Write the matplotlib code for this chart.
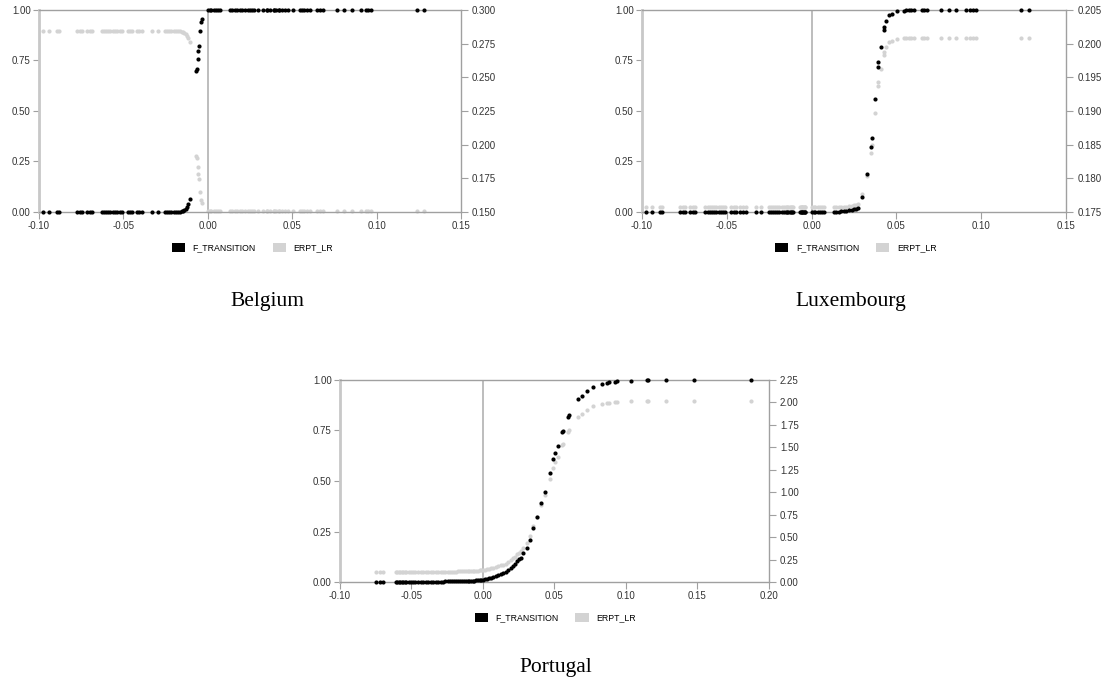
import matplotlib
matplotlib.use('Agg')
import matplotlib.pyplot as plt
import matplotlib.patches as patches
from matplotlib.ticker import FormatStrFormatter

plt.rcParams['font.family'] = ['Liberation Sans', 'DejaVu Sans']

# exchange rate change (same sample for Belgium and Luxembourg)
x_chg = [
    -0.0976, -0.0940, -0.0893, -0.0880, -0.0775, -0.0757, -0.0746, -0.0716, -0.0698, -0.0686,
    -0.0627, -0.0614, -0.0602, -0.0590, -0.0577, -0.0562, -0.0549, -0.0536, -0.0522, -0.0509,
    -0.0473, -0.0460, -0.0447, -0.0420, -0.0405, -0.0390, -0.0331, -0.0296, -0.0254, -0.0241,
    -0.0229, -0.0216, -0.0202, -0.0190, -0.0177, -0.0165, -0.0154, -0.0145, -0.0138, -0.0130,
    -0.0122, -0.0115, -0.0108, -0.0067, -0.0065, -0.0059, -0.0055, -0.0053, -0.0047, -0.0041,
    -0.0037, 0.0002, 0.0012, 0.0022, 0.0035, 0.0048, 0.0060, 0.0071, 0.0130, 0.0145,
    0.0160, 0.0175, 0.0190, 0.0205, 0.0222, 0.0237, 0.0250, 0.0262, 0.0272, 0.0298,
    0.0326, 0.0349, 0.0353, 0.0371, 0.0390, 0.0394, 0.0406, 0.0424, 0.0425, 0.0441,
    0.0459, 0.0473, 0.0503, 0.0544, 0.0556, 0.0572, 0.0586, 0.0604, 0.0650, 0.0662,
    0.0680, 0.0763, 0.0810, 0.0852, 0.0910, 0.0935, 0.0952, 0.0970, 0.1237, 0.1284,
]

# Belgium
f_be = [
    0, 0, 0, 0, 0, 0, 0, 0, 0, 0,
    0, 0, 0, 0, 0, 0, 0, 0, 0, 0,
    0, 0, 0, 0, 0, 0, 0, 0, 0, 0,
    0, 0, 0.001, 0.001, 0.001, 0.002, 0.003, 0.005, 0.008, 0.014,
    0.024, 0.040, 0.062, 0.696, 0.707, 0.757, 0.795, 0.820, 0.897, 0.939,
    0.955, 1, 1, 1, 1, 1, 1, 1, 1, 1,
    1, 1, 1, 1, 1, 1, 1, 1, 1, 1,
    1, 1, 1, 1, 1, 1, 1, 1, 1, 1,
    1, 1, 1, 1, 1, 1, 1, 1, 1, 1,
    1, 1, 1, 1, 1, 1, 1, 1, 1, 1,
]
erpt_be = [
    0.2843, 0.2843, 0.2843, 0.2843, 0.2843, 0.2843, 0.2843, 0.2843, 0.2843, 0.2843,
    0.2843, 0.2843, 0.2843, 0.2843, 0.2843, 0.2843, 0.2843, 0.2843, 0.2843, 0.2843,
    0.2843, 0.2843, 0.2843, 0.2843, 0.2843, 0.2843, 0.2843, 0.2843, 0.2843, 0.2843,
    0.2843, 0.2843, 0.2841, 0.2841, 0.2841, 0.2840, 0.2839, 0.2836, 0.2832, 0.2824,
    0.2810, 0.2789, 0.2760, 0.1913, 0.1899, 0.1832, 0.1781, 0.1748, 0.1645, 0.1589,
    0.1568, 0.1508, 0.1508, 0.1508, 0.1508, 0.1508, 0.1508, 0.1508, 0.1508, 0.1508,
    0.1508, 0.1508, 0.1508, 0.1508, 0.1508, 0.1508, 0.1508, 0.1508, 0.1508, 0.1508,
    0.1508, 0.1508, 0.1508, 0.1508, 0.1508, 0.1508, 0.1508, 0.1508, 0.1508, 0.1508,
    0.1508, 0.1508, 0.1508, 0.1508, 0.1508, 0.1508, 0.1508, 0.1508, 0.1508, 0.1508,
    0.1508, 0.1508, 0.1508, 0.1508, 0.1508, 0.1508, 0.1508, 0.1508, 0.1508, 0.1508,
]

# Luxembourg
f_lu = [
    0, 0, 0, 0, 0, 0, 0, 0, 0, 0,
    0, 0, 0, 0, 0, 0, 0, 0, 0, 0,
    0, 0, 0, 0, 0, 0, 0, 0, 0, 0,
    0, 0, 0, 0, 0, 0, 0, 0, 0, 0,
    0, 0, 0, 0, 0, 0, 0, 0, 0, 0,
    0, 0, 0, 0, 0, 0, 0, 0, 0.001, 0.002,
    0.002, 0.003, 0.004, 0.006, 0.008, 0.011, 0.014, 0.017, 0.021, 0.076,
    0.187, 0.324, 0.367, 0.557, 0.716, 0.740, 0.818, 0.900, 0.914, 0.947,
    0.974, 0.982, 0.993, 0.997, 0.998, 0.999, 1, 1, 1, 1,
    1, 1, 1, 1, 1, 1, 1, 1, 1, 1,
]
erpt_lu = [
    0.1757, 0.1757, 0.1757, 0.1757, 0.1757, 0.1757, 0.1757, 0.1757, 0.1757, 0.1757,
    0.1757, 0.1757, 0.1757, 0.1757, 0.1757, 0.1757, 0.1757, 0.1757, 0.1757, 0.1757,
    0.1757, 0.1757, 0.1757, 0.1757, 0.1757, 0.1757, 0.1757, 0.1757, 0.1757, 0.1757,
    0.1757, 0.1757, 0.1757, 0.1757, 0.1757, 0.1757, 0.1757, 0.1757, 0.1757, 0.1757,
    0.1757, 0.1757, 0.1757, 0.1757, 0.1757, 0.1757, 0.1757, 0.1757, 0.1757, 0.1757,
    0.1757, 0.1757, 0.1757, 0.1757, 0.1757, 0.1757, 0.1757, 0.1757, 0.1757, 0.1757,
    0.1757, 0.1757, 0.1757, 0.1758, 0.1759, 0.1759, 0.1760, 0.1761, 0.1762, 0.1776,
    0.1804, 0.1838, 0.1849, 0.1897, 0.1937, 0.1943, 0.1963, 0.1983, 0.1987, 0.1995,
    0.2002, 0.2004, 0.2007, 0.2008, 0.2008, 0.2008, 0.2008, 0.2008, 0.2008, 0.2008,
    0.2008, 0.2008, 0.2008, 0.2008, 0.2008, 0.2008, 0.2008, 0.2008, 0.2008, 0.2008,
]

# Portugal
x_pt = [
    -0.0748, -0.0722, -0.0697,
    -0.0610, -0.0598, -0.0588, -0.0578, -0.0568, -0.0558, -0.0548, -0.0535, -0.0520, -0.0505,
    -0.0490, -0.0472, -0.0455,
    -0.0435, -0.0418, -0.0400, -0.0382, -0.0365, -0.0348, -0.0330, -0.0312, -0.0295, -0.0278,
    -0.0262, -0.0245,
    -0.0230, -0.0215, -0.0200, -0.0186, -0.0172, -0.0158, -0.0145, -0.0132, -0.0120, -0.0108,
    -0.0096, -0.0084, -0.0072, -0.0060, -0.0048, -0.0036, -0.0024, -0.0012, 0.0000,
    0.0014, 0.0026, 0.0040, 0.0055, 0.0072, 0.0090, 0.0107, 0.0124, 0.0142, 0.0160,
    0.0177, 0.0195, 0.0212, 0.0226, 0.0240, 0.0252, 0.0263,
    0.0282, 0.0306, 0.0329, 0.0352, 0.0376, 0.0406, 0.0434, 0.0469, 0.0492, 0.0503,
    0.0522, 0.0550, 0.0557, 0.0592, 0.0599, 0.0667, 0.0690, 0.0729, 0.0771, 0.0830,
    0.0865, 0.0883, 0.0923, 0.0939, 0.1035, 0.1145, 0.1156, 0.1277, 0.1476, 0.1872,
]
f_pt = [
    0, 0, 0,
    0, 0, 0, 0, 0, 0, 0.001, 0.001, 0.001, 0.001,
    0.001, 0.001, 0.001,
    0.001, 0.001, 0.001, 0.001, 0.002, 0.002, 0.002, 0.002, 0.002, 0.002,
    0.003, 0.003,
    0.003, 0.003, 0.003, 0.003, 0.004, 0.004, 0.004, 0.004, 0.005, 0.005,
    0.005, 0.006, 0.006, 0.007, 0.008, 0.009, 0.010, 0.011, 0.012,
    0.013, 0.015, 0.018, 0.021, 0.025, 0.029, 0.033, 0.038, 0.043, 0.050,
    0.058, 0.068, 0.080, 0.090, 0.103, 0.112, 0.120,
    0.142, 0.167, 0.208, 0.266, 0.323, 0.389, 0.447, 0.541, 0.607, 0.640,
    0.673, 0.744, 0.749, 0.815, 0.827, 0.904, 0.921, 0.947, 0.967, 0.980,
    0.986, 0.988, 0.991, 0.993, 0.996, 0.998, 0.998, 0.999, 1.000, 1.000,
]
erpt_pt = [
    0.111, 0.111, 0.111,
    0.111, 0.111, 0.111, 0.111, 0.111, 0.111, 0.113, 0.113, 0.113, 0.113,
    0.113, 0.113, 0.113,
    0.113, 0.113, 0.113, 0.113, 0.115, 0.115, 0.115, 0.115, 0.115, 0.115,
    0.117, 0.117,
    0.117, 0.117, 0.117, 0.117, 0.119, 0.119, 0.119, 0.119, 0.121, 0.121,
    0.121, 0.122, 0.122, 0.124, 0.126, 0.128, 0.130, 0.132, 0.134,
    0.136, 0.140, 0.145, 0.151, 0.159, 0.166, 0.174, 0.184, 0.193, 0.206,
    0.222, 0.241, 0.264, 0.283, 0.308, 0.325, 0.340,
    0.382, 0.430, 0.508, 0.619, 0.728, 0.854, 0.964, 1.144, 1.270, 1.333,
    1.396, 1.531, 1.541, 1.667, 1.690, 1.837, 1.869, 1.919, 1.957, 1.982,
    1.993, 1.997, 2.003, 2.007, 2.012, 2.016, 2.016, 2.018, 2.020, 2.020,
]

# axis ticks
xticks_eu = [-0.10, -0.05, 0.00, 0.05, 0.10, 0.15]
xticks_pt = [-0.10, -0.05, 0.00, 0.05, 0.10, 0.15, 0.20]
lticks = [0.00, 0.25, 0.50, 0.75, 1.00]
rticks_be = [0.150, 0.175, 0.200, 0.225, 0.250, 0.275, 0.300]
rticks_lu = [0.175, 0.180, 0.185, 0.190, 0.195, 0.200, 0.205]
rticks_pt = [0.00, 0.25, 0.50, 0.75, 1.00, 1.25, 1.50, 1.75, 2.00, 2.25]

CINZA = '#d3d3d3'
LINHA = '#a0a0a0'

fig = plt.figure(figsize=(11.07, 6.90), dpi=100)


def painel(rect, x, f_trans, erpt, xticks, rticks, rfmt, leg_x, titulo, tit_xy):
    ax = fig.add_axes(rect)
    ax2 = ax.twinx()
    # black series stays on top of the grey one
    ax.set_zorder(ax2.get_zorder() + 1)
    ax.patch.set_visible(False)

    ax2.axvline(0, color='#b8b8b8', lw=1.3, zorder=0.5)
    ax2.scatter(x, erpt, s=9, color=CINZA, linewidths=0, clip_on=False, zorder=2)
    ax.scatter(x, f_trans, s=9, color='black', linewidths=0, clip_on=False, zorder=3)

    ax.set_xlim(xticks[0], xticks[-1])
    ax.set_ylim(0, 1)
    ax2.set_ylim(rticks[0], rticks[-1])
    ax.set_xticks(xticks)
    ax.set_yticks(lticks)
    ax2.set_yticks(rticks)
    ax.xaxis.set_major_formatter(FormatStrFormatter('%.2f'))
    ax.yaxis.set_major_formatter(FormatStrFormatter('%.2f'))
    ax2.yaxis.set_major_formatter(FormatStrFormatter(rfmt))

    for lado in ['top', 'bottom', 'right']:
        ax.spines[lado].set_color(LINHA)
        ax.spines[lado].set_linewidth(1.0)
    ax.spines['left'].set_color('#c8c8c8')
    ax.spines['left'].set_linewidth(2.0)
    for lado in ax2.spines:
        ax2.spines[lado].set_visible(False)

    ax.tick_params(axis='y', direction='out', length=4, width=0.8, color=LINHA,
                   labelsize=7, labelcolor='#333333', pad=2)
    ax.tick_params(axis='x', direction='out', length=5, width=0.8, color=LINHA,
                   labelsize=7, labelcolor='#333333', pad=1.5)
    ax2.tick_params(axis='y', direction='out', length=5, width=0.8, color=LINHA,
                    labelsize=7, labelcolor='#333333', pad=3)

    # legend under the plot
    h1 = patches.Patch(facecolor='black', edgecolor='none')
    h2 = patches.Patch(facecolor=CINZA, edgecolor='none')
    ax.legend([h1, h2], ['F_TRANSITION', 'ERPT_LR'], loc='center',
              bbox_to_anchor=(leg_x, -0.178), ncol=2, frameon=False, fontsize=6.3,
              handlelength=1.5, handleheight=1.1, handletextpad=0.9, columnspacing=1.9)

    fig.text(tit_xy[0], tit_xy[1], titulo, ha='center', va='center',
             fontsize=15.5, family=['Liberation Serif', 'DejaVu Serif'])


painel([0.0352, 0.6928, 0.3812, 0.2928], x_chg, f_be, erpt_be, xticks_eu, rticks_be,
       '%.3f', 0.506, 'Belgium', (0.2412, 0.5630))
painel([0.5800, 0.6928, 0.3830, 0.2928], x_chg, f_lu, erpt_lu, xticks_eu, rticks_lu,
       '%.3f', 0.504, 'Luxembourg', (0.7687, 0.5630))
painel([0.3071, 0.1565, 0.3875, 0.2928], x_pt, f_pt, erpt_pt, xticks_pt, rticks_pt,
       '%.2f', 0.502, 'Portugal', (0.5023, 0.0330))

fig.savefig('out.png', dpi=100)
